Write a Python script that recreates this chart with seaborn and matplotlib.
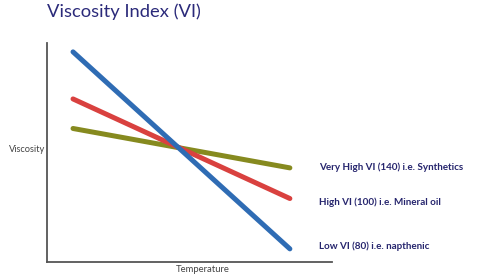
import numpy as np
import pandas as pd
import seaborn as sns
import matplotlib.pyplot as plt

# temperature runs from low to high, viscosity (0..1 scale)
temperature = [0.0, 1.0]
low_vi = [0.96, 0.06]
high_vi = [0.745, 0.29]
very_high_vi = [0.61, 0.43]

labels = ['Very High VI (140) i.e. Synthetics',
          'High VI (100) i.e. Mineral oil',
          'Low VI (80) i.e. napthenic']
colors = {'Low VI (80) i.e. napthenic': '#2f6cb4',
          'High VI (100) i.e. Mineral oil': '#d9413f',
          'Very High VI (140) i.e. Synthetics': '#868a1f'}

df = pd.DataFrame({
    'temperature': temperature * 3,
    'viscosity': very_high_vi + high_vi + low_vi,
    'oil': [labels[0]] * 2 + [labels[1]] * 2 + [labels[2]] * 2,
})

sns.set_style('white')
plt.rcParams['font.family'] = ['Lato', 'DejaVu Sans']

fig = plt.figure(figsize=(4.86, 2.8), dpi=100)
ax = fig.add_axes([0.0967, 0.0643, 0.5863, 0.7817])

sns.lineplot(data=df, x='temperature', y='viscosity', hue='oil', palette=colors,
             linewidth=3.6, legend=False, ax=ax, solid_capstyle='round')

ax.set_xlim(-0.12, 1.194)
ax.set_ylim(0, 1)
ax.set_xticks([])
ax.set_yticks([])
ax.set_xlabel('')
ax.set_ylabel('')
for side in ['top', 'right']:
    ax.spines[side].set_visible(False)
for side in ['left', 'bottom']:
    ax.spines[side].set_color('#555555')
    ax.spines[side].set_linewidth(1.3)

navy = '#27266e'
fig.text(47 / 486, 1 - 12 / 280, 'Viscosity Index (VI)', color='#2b2a7a',
         fontsize=13.2, va='center', ha='left')
fig.text(45 / 486, 1 - 149 / 280, 'Viscosity', color='#444444', fontsize=6.7,
         va='center', ha='right')
fig.text(203 / 486, 1 - 270 / 280, 'Temperature', color='#444444', fontsize=6.8,
         va='center', ha='center')
for txt, ypix in zip(labels, [167, 202, 246]):
    fig.text(319 / 486, 1 - ypix / 280, txt, color=navy, fontsize=7.1,
             fontweight='bold', va='center', ha='left')

fig.savefig('out.png', dpi=100)
